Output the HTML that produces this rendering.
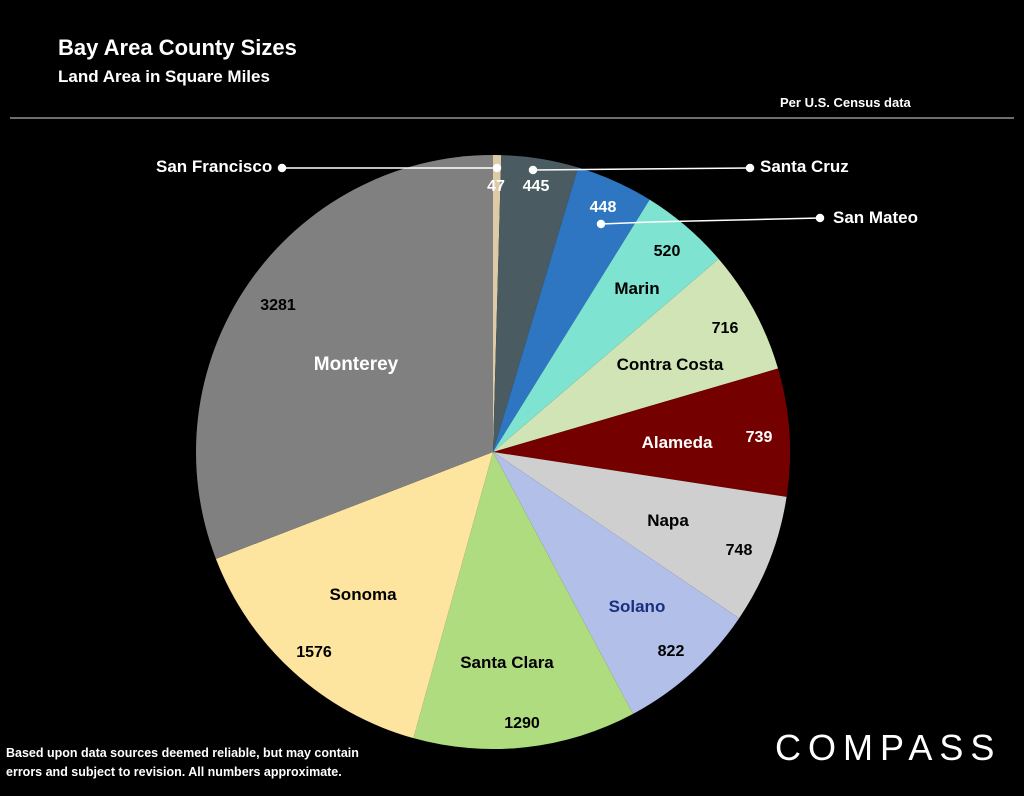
<!DOCTYPE html>
<html><head><meta charset="utf-8"><style>
html,body{margin:0;padding:0;background:#000;}
body{width:1024px;height:791px;overflow:hidden;position:relative;font-family:"Liberation Sans",sans-serif;}
svg text{font-family:"Liberation Sans",sans-serif;font-weight:bold;}
</style></head><body>
<svg id="s" width="1024" height="791" xmlns="http://www.w3.org/2000/svg">
<text x="58" y="55" fill="#fff" font-size="22">Bay Area County Sizes</text>
<text x="58" y="82" fill="#fff" font-size="17">Land Area in Square Miles</text>
<text x="780" y="107" fill="#fff" font-size="13">Per U.S. Census data</text>
<line x1="10" y1="118" x2="1014" y2="118" stroke="#ddd" stroke-width="1"/>
<g id="pie"></g>
<g font-size="16" text-anchor="middle">
<text x="496" y="191" fill="#fff">47</text>
<text x="536" y="191" fill="#fff">445</text>
<text x="603" y="212" fill="#fff">448</text>
<text x="667" y="256" fill="#000">520</text>
<text x="637" y="294" fill="#000" font-size="17">Marin</text>
<text x="725" y="333" fill="#000">716</text>
<text x="670" y="370" fill="#000" font-size="17">Contra Costa</text>
<text x="759" y="442" fill="#fff">739</text>
<text x="677" y="448" fill="#fff" font-size="17">Alameda</text>
<text x="668" y="526" fill="#000" font-size="17">Napa</text>
<text x="739" y="555" fill="#000">748</text>
<text x="637" y="612" fill="#1a2f80" font-size="17">Solano</text>
<text x="671" y="656" fill="#000">822</text>
<text x="507" y="668" fill="#000" font-size="17">Santa Clara</text>
<text x="522" y="728" fill="#000">1290</text>
<text x="363" y="600" fill="#000" font-size="17">Sonoma</text>
<text x="314" y="657" fill="#000">1576</text>
<text x="356" y="370" fill="#fff" font-size="19">Monterey</text>
<text x="278" y="310" fill="#000">3281</text>
</g>
<g stroke="#fff" stroke-width="1.5" fill="#fff">
<line x1="282" y1="168" x2="497" y2="168"/><circle cx="282" cy="168" r="3.5"/><circle cx="497" cy="168" r="3.5"/>
<line x1="533" y1="170" x2="750" y2="168"/><circle cx="533" cy="170" r="3.5"/><circle cx="750" cy="168" r="3.5"/>
<polyline points="601,224 650,222 820,218" fill="none"/><circle cx="601" cy="224" r="3.5"/><circle cx="820" cy="218" r="3.5"/>
</g>
<g font-size="17" fill="#fff">
<text x="156" y="172">San Francisco</text>
<text x="760" y="172">Santa Cruz</text>
<text x="833" y="223">San Mateo</text>
</g>
<g font-size="12.5" fill="#fff">
<text x="6" y="757">Based upon data sources deemed reliable, but may contain</text>
<text x="6" y="776">errors and subject to revision. All numbers  approximate.</text>
</g>
<text x="775" y="760" fill="#fff" font-size="36" style="font-weight:normal;letter-spacing:7px">COMPASS</text>
</svg>
<script>
var vals=[47,445,448,520,716,739,748,822,1290,1576,3281];
var cols=["#dccba4","#4b5b62","#2f76c2","#7fe3d1","#d0e4b6","#750000","#cfcfcf","#b2bfe9","#b0dc80","#fde49f","#808080"];
var cx=493,cy=452,r=297,tot=0;vals.forEach(function(v){tot+=v});
var a=0,h="";
for(var i=0;i<vals.length;i++){
var a2=a+vals[i]/tot*2*Math.PI;
var x1=cx+r*Math.sin(a),y1=cy-r*Math.cos(a),x2=cx+r*Math.sin(a2),y2=cy-r*Math.cos(a2);
var lg=(a2-a)>Math.PI?1:0;
h+='<path d="M'+cx+','+cy+' L'+x1+','+y1+' A'+r+','+r+' 0 '+lg+' 1 '+x2+','+y2+' Z" fill="'+cols[i]+'"/>';
a=a2;}
document.getElementById("pie").innerHTML=h;
</script>
</body></html>
